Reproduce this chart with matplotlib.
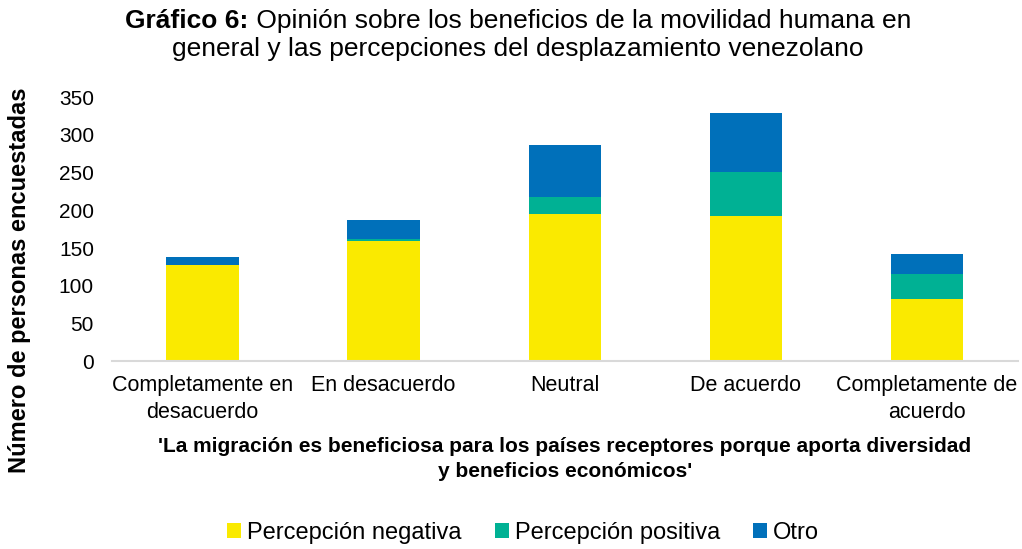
import numpy as np
import matplotlib.pyplot as plt

plt.rcParams['font.family'] = ['Liberation Sans', 'DejaVu Sans']

categorias = ["Completamente en\ndesacuerdo", "En desacuerdo", "Neutral",
              "De acuerdo", "Completamente de\nacuerdo"]
negativa = [127, 160, 195, 192, 83]
positiva = [0, 2, 23, 59, 32]
otro = [11, 25, 69, 78, 27]

col_neg = "#FAEA00"
col_pos = "#00B194"
col_otro = "#0070BA"

fig = plt.figure(figsize=(10.22, 5.49), dpi=100)
ax = fig.add_axes([0.1096, 0.342, 0.886, 0.481])

x = np.arange(len(categorias))
neg = np.array(negativa)
pos = np.array(positiva)
ot = np.array(otro)
w = 0.4
ax.bar(x, neg, w, color=col_neg, label="Percepción negativa")
ax.bar(x, pos, w, bottom=neg, color=col_pos, label="Percepción positiva")
ax.bar(x, ot, w, bottom=neg + pos, color=col_otro, label="Otro")

ax.set_xlim(-0.5, len(categorias) - 0.5)
ax.set_ylim(0, 350)
ax.set_yticks(range(0, 351, 50))
ax.set_xticks(x)
ax.set_xticklabels(categorias, fontsize=15.5, linespacing=1.35)
ax.tick_params(axis='y', labelsize=15, length=0, pad=13)
ax.tick_params(axis='x', length=0, pad=10)
for s in ["top", "right", "left"]:
    ax.spines[s].set_visible(False)
ax.spines["bottom"].set_color("#D9D9D9")
ax.spines["bottom"].set_linewidth(1.5)

ax.set_xlabel("'La migración es beneficiosa para los países receptores porque aporta diversidad\ny beneficios económicos'",
              fontsize=15, fontweight='bold', labelpad=10, linespacing=1.45)
fig.text(0.019, 0.49, "Número de personas encuestadas", rotation=90,
         fontsize=17, fontweight='bold', ha='center', va='center')

# titulo: parte en negrita + parte normal
fig.canvas.draw()
r = fig.canvas.get_renderer()
t1 = fig.text(0, 0.961, "Gráfico 6:", fontsize=19, fontweight='bold', va='center')
t2 = fig.text(0, 0.961, " Opinión sobre los beneficios de la movilidad humana en",
              fontsize=19, va='center')
w1 = t1.get_window_extent(r).width / fig.bbox.width
w2 = t2.get_window_extent(r).width / fig.bbox.width
x0 = 0.507 - (w1 + w2) / 2
t1.set_x(x0)
t2.set_x(x0 + w1)
fig.text(0.507, 0.91, "general y las percepciones del desplazamiento venezolano",
         fontsize=19, ha='center', va='center')

fig.legend(loc='center', bbox_to_anchor=(0.512, 0.03), ncol=3, frameon=False,
           fontsize=17, handlelength=0.6, handleheight=0.6, handletextpad=0.25,
           columnspacing=1.4)

fig.savefig("out.png", dpi=100)
